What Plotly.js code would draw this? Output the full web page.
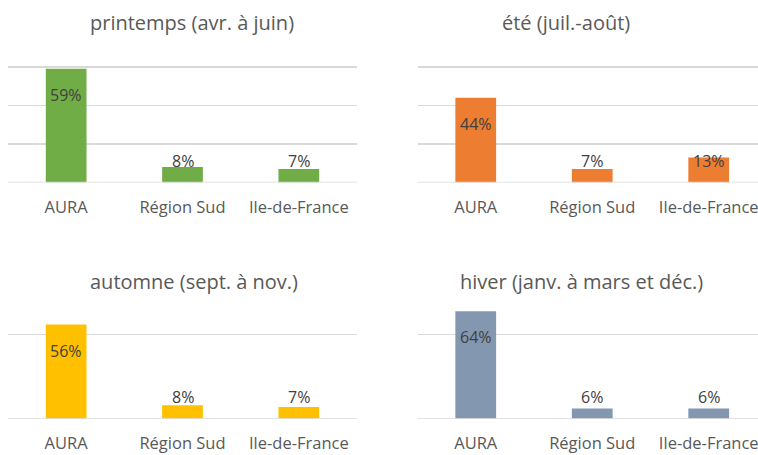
<!DOCTYPE html>
<html><head><meta charset="utf-8">
<script src="https://cdn.plot.ly/plotly-3.0.1.min.js"></script>
<style>html,body{margin:0;padding:0;background:#fff}#c{width:758px;height:455px}</style>
</head><body><div id="c"></div>
<script>
const categories = ["AURA", "Région Sud", "Ile-de-France"];
const printemps = [0.59, 0.08, 0.07];
const ete = [0.44, 0.07, 0.13];
const automne = [0.56, 0.08, 0.07];
const hiver = [0.64, 0.06, 0.06];
const titles = ["printemps (avr. à juin)", "été (juil.-août)", "automne (sept. à nov.)", "hiver (janv. à mars et déc.)"];
const colors = ["#70AD47", "#ED7D31", "#FFC000", "#8497B0"];
const series = [printemps, ete, automne, hiver];

const W = 758, H = 455;
const panels = [
  {xd:[8/W, 357/W], xr:[-0.5, 2.5], yd:[(H-182.5)/H, (H-65)/H], yr:[0,0.61], tv:[0,0.2,0.4,0.6], tx:192/W, ty:(H-22)/H, ppu:115.5/0.6},
  {xd:[417.5/W, 1], xr:[-0.5, 2.423], yd:[(H-182.5)/H, (H-65)/H], yr:[0,0.61], tv:[0,0.2,0.4,0.6], tx:566/W, ty:(H-22)/H, ppu:115.5/0.6},
  {xd:[8/W, 357/W], xr:[-0.5, 2.5], yd:[(H-418.7)/H, (H-301.1)/H], yr:[0,0.7], tv:[0,0.5], tx:194/W, ty:(H-281.7)/H, ppu:168},
  {xd:[417.5/W, 1], xr:[-0.5, 2.423], yd:[(H-418.7)/H, (H-301.1)/H], yr:[0,0.7], tv:[0,0.5], tx:581/W, ty:(H-281.7)/H, ppu:168}
];

const data = [];
const annotations = [];
const shapes = [];
const layout = {
  width: W, height: H, margin:{l:0,r:0,t:0,b:0},
  paper_bgcolor:"#fff", plot_bgcolor:"#fff", showlegend:false, bargap:0.65,
  font:{family:"Open Sans, sans-serif", color:"#595959"}
};

panels.forEach((p, i) => {
  const n = i === 0 ? "" : String(i + 1);
  data.push({
    type:"bar", x:categories, y:series[i], xaxis:"x"+n, yaxis:"y"+n,
    marker:{color:colors[i], line:{width:0}}, hoverinfo:"skip"
  });
  layout["xaxis"+n] = {
    domain:p.xd, anchor:"y"+n, range:p.xr, fixedrange:true,
    showgrid:false, zeroline:false, showline:false, ticks:"",
    tickfont:{size:16.5, color:"#595959"}, ticklabelstandoff:13
  };
  layout["yaxis"+n] = {
    domain:p.yd, anchor:"x"+n, range:p.yr, tickvals:p.tv, showticklabels:false,
    showgrid:true, gridcolor:"#D9D9D9", gridwidth:1.3, zeroline:false, showline:false, fixedrange:true
  };
  annotations.push({
    xref:"paper", yref:"paper", x:p.tx, y:p.ty, xanchor:"center", yanchor:"middle",
    text:titles[i], showarrow:false, font:{size:20, color:"#595959"}
  });
  series[i].forEach((v, j) => {
    const big = v * p.ppu - 26 > 22;
    annotations.push({
      xref:"x"+n, yref:"y"+n, x:categories[j], y: big ? v : 0,
      yshift: big ? -26 : 22, yanchor:"middle", xanchor:"center",
      text: Math.round(v*100) + "%", showarrow:false,
      font:{size:16, color:"#404040"}
    });
  });
  shapes.push({type:"line", xref:"x"+n+" domain", yref:"y"+n, x0:0, x1:1, y0:0, y1:0,
    line:{color:"#D9D9D9", width:1.3}, layer:"above"});
});
layout.annotations = annotations;
layout.shapes = shapes;

Plotly.newPlot("c", data, layout, {displayModeBar:false, staticPlot:true});
</script></body></html>
